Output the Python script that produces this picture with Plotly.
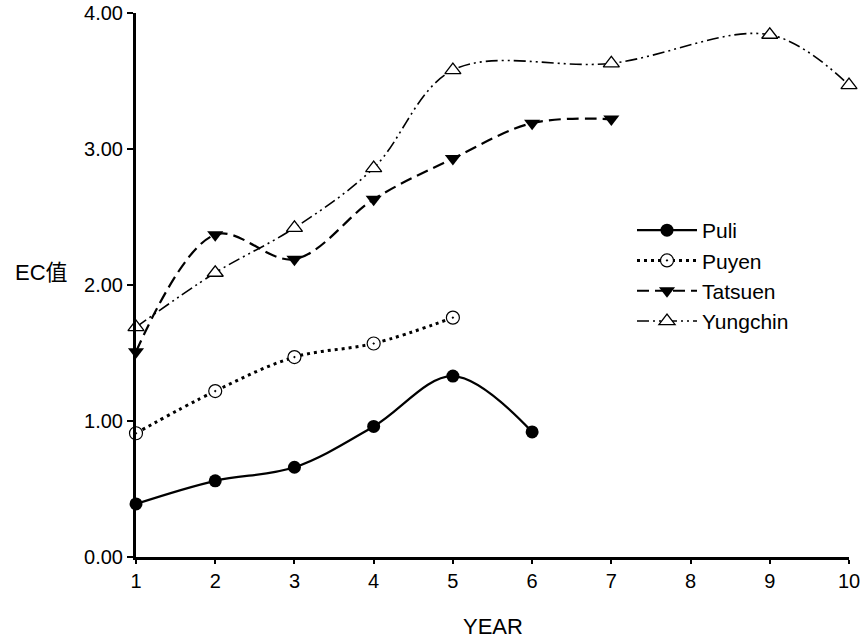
import plotly.graph_objects as go

puli_x = [1, 2, 3, 4, 5, 6]
puli_y = [0.39, 0.56, 0.66, 0.96, 1.33, 0.92]
puyen_x = [1, 2, 3, 4, 5]
puyen_y = [0.91, 1.22, 1.47, 1.57, 1.76]
tatsuen_x = [1, 2, 3, 4, 5, 6, 7]
tatsuen_y = [1.51, 2.37, 2.19, 2.63, 2.93, 3.19, 3.22]
yung_x = [1, 2, 3, 4, 5, 7, 9, 10]
yung_y = [1.69, 2.09, 2.42, 2.86, 3.58, 3.63, 3.84, 3.47]
x_ticks = list(range(1, 11))
y_ticks = [0, 1, 2, 3, 4]

FONT = "Arial, 'Liberation Sans', 'Noto Sans CJK SC', sans-serif"
L, R, T, B = 136, 17, 13, 85
W, H = 866, 642
PW, PH = W - L - R, H - T - B

fig = go.Figure()
fig.add_trace(go.Scatter(x=puli_x, y=puli_y, name="Puli", mode="lines+markers",
                         line=dict(color="black", width=2.2, shape="spline"),
                         marker=dict(symbol="circle", size=13, color="black"),
                         cliponaxis=False))
fig.add_trace(go.Scatter(x=puyen_x, y=puyen_y, name="Puyen", mode="lines+markers",
                         line=dict(color="black", width=3, dash="3px,4px", shape="spline"),
                         marker=dict(symbol="circle-dot", size=13, color="white",
                                     line=dict(color="black", width=1.2)),
                         cliponaxis=False))
fig.add_trace(go.Scatter(x=tatsuen_x, y=tatsuen_y, name="Tatsuen", mode="lines+markers",
                         line=dict(color="black", width=2.2, dash="12px,6px", shape="spline"),
                         marker=dict(symbol="triangle-down", size=14, color="black"),
                         cliponaxis=False))
fig.add_trace(go.Scatter(x=yung_x, y=yung_y, name="Yungchin", mode="lines+markers",
                         line=dict(color="black", width=1.6, dash="12px,4px,2px,4px,2px,4px", shape="spline"),
                         marker=dict(symbol="triangle-up", size=14, color="white",
                                     line=dict(color="black", width=1.3)),
                         cliponaxis=False))

fig.update_layout(
    width=W, height=H,
    margin=dict(l=L, r=R, t=T, b=B, autoexpand=False),
    paper_bgcolor="white", plot_bgcolor="white",
    font=dict(family=FONT, size=20, color="black"),
    showlegend=True,
    legend=dict(x=(632 - L) / PW, y=(H - B - 210) / PH, xanchor="left", yanchor="top",
                font=dict(size=21), bgcolor="rgba(0,0,0,0)",
                tracegroupgap=0, itemwidth=60),
)
fig.add_annotation(text="EC值", xref="paper", yref="paper",
                   x=(13 - L) / PW, y=(H - B - 272) / PH,
                   xanchor="left", yanchor="middle", showarrow=False,
                   font=dict(size=22))
fig.add_annotation(text="YEAR", xref="paper", yref="paper",
                   x=0.5, y=(H - B - 626) / PH,
                   xanchor="center", yanchor="middle", showarrow=False,
                   font=dict(size=22))

fig.update_xaxes(range=[1, 10], tickvals=x_ticks, showgrid=False, zeroline=False,
                 showline=True, linecolor="black", linewidth=3, automargin=False,
                 ticks="outside", ticklen=4, tickwidth=1.5, tickcolor="black",
                 tickfont=dict(size=20))
fig.update_yaxes(range=[0, 4], tickvals=y_ticks, tickformat=".2f", showgrid=False,
                 zeroline=False, showline=True, linecolor="black", linewidth=3,
                 automargin=False,
                 ticks="outside", ticklen=6, tickwidth=2, tickcolor="black",
                 tickfont=dict(size=20))

fig.write_html("out.html")
